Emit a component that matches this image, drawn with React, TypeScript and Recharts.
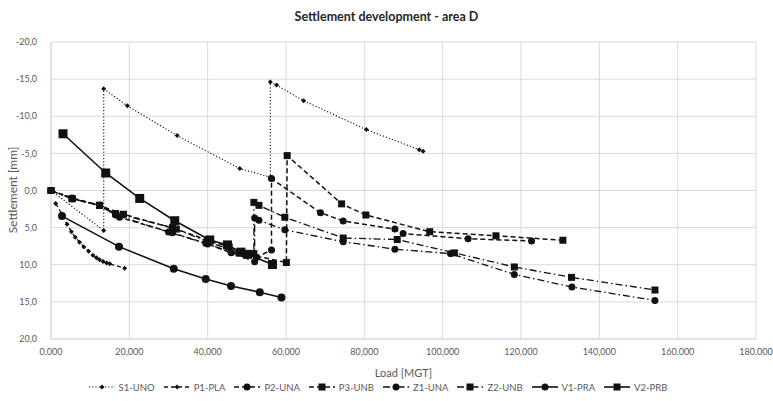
import React from 'react';
import { LineChart, Line, XAxis, YAxis, CartesianGrid, Legend } from 'recharts';

// Load [MGT] / settlement [mm] values
const s1Load = [0, 13.46, 13.46, 19.5, 32.2, 48.2, 56.0, 56.0, 57.6, 64.5, 80.5, 94.0, 95.0];
const s1Sett = [0, 5.4, -13.7, -11.4, -7.4, -2.95, -1.8, -14.6, -14.2, -12.1, -8.2, -5.5, -5.3];

const p1Load = [1.2, 2.8, 4.1, 5.2, 6.2, 7.3, 8.4, 9.6, 10.7, 11.6, 12.4, 13.3, 14.2, 15.0, 18.8];
const p1Sett = [1.74, 3.2, 4.56, 5.55, 6.3, 6.97, 7.6, 8.18, 8.71, 9.07, 9.34, 9.57, 9.75, 9.88, 10.46];

const p2Load = [0, 5.4, 12.4, 17.5, 31.0, 39.5, 46.0, 52.5, 56.3, 56.3, 68.8, 74.6, 87.8, 89.9, 106.5, 122.7];
const p2Sett = [0, 1.0, 2.0, 3.6, 5.7, 7.1, 8.4, 9.0, 8.0, -1.6, 3.0, 4.1, 5.2, 5.8, 6.5, 6.8];

const p3Load = [0, 5.4, 12.4, 18.5, 32.0, 40.5, 45.5, 49.5, 60.1, 60.3, 74.2, 80.4, 96.7, 113.6, 130.7];
const p3Sett = [0, 1.1, 2.0, 3.2, 5.2, 6.8, 7.6, 8.5, 9.7, -4.7, 1.8, 3.3, 5.55, 6.1, 6.7];

const z1Load = [0, 5.4, 12.4, 16.5, 30.0, 40.0, 46.0, 52.0, 52.0, 53.1, 59.7, 74.6, 87.8, 102.0, 118.3, 133.0, 154.2];
const z1Sett = [0, 1.1, 2.0, 3.3, 5.6, 7.2, 8.3, 9.6, 3.7, 4.0, 5.3, 6.9, 7.9, 8.5, 11.3, 13.0, 14.8];

const z2Load = [0, 5.4, 12.4, 16.5, 31.0, 40.0, 48.0, 51.8, 51.8, 53.1, 59.7, 74.6, 88.4, 103.0, 118.3, 132.9, 154.2];
const z2Sett = [0, 1.1, 2.0, 3.1, 5.0, 6.9, 8.4, 8.5, 1.6, 2.0, 3.6, 6.4, 6.6, 8.4, 10.3, 11.7, 13.4];

const v1Load = [2.81, 17.37, 31.34, 39.5, 45.97, 53.3, 58.84];
const v1Sett = [3.45, 7.56, 10.55, 11.93, 12.87, 13.7, 14.4];

const v2Load = [3.07, 13.97, 22.65, 31.59, 40.53, 45.05, 48.5, 50.2, 56.54];
const v2Sett = [-7.64, -2.36, 1.07, 4.07, 6.66, 7.33, 8.3, 8.6, 9.97];

const xTicks = [0, 20, 40, 60, 80, 100, 120, 140, 160, 180];
const yTicks = [-20, -15, -10, -5, 0, 5, 10, 15, 20];

const seriesNames = ['S1-UNO', 'P1-PLA', 'P2-UNA', 'P3-UNB', 'Z1-UNA', 'Z2-UNB', 'V1-PRA', 'V2-PRB'];

const zip = (xs: number[], ys: number[]) => xs.map((x, i) => ({ x, y: ys[i] }));

const FONT = 'Lato, "Open Sans", sans-serif';
const INK = '#111';
const TXT = '#595959';

type Shape = 'diamond' | 'circle' | 'square';

const Marker = ({ shape, size, cx, cy }: { shape: Shape; size: number; cx: number; cy: number }) => {
  const h = size / 2;
  if (shape === 'circle') return <circle cx={cx} cy={cy} r={h} fill={INK} stroke="none" />;
  if (shape === 'square') return <rect x={cx - h} y={cy - h} width={size} height={size} fill={INK} stroke="none" />;
  return <polygon points={`${cx},${cy - h} ${cx + h},${cy} ${cx},${cy + h} ${cx - h},${cy}`} fill={INK} stroke="none" />;
};

const makeDot = (shape: Shape, size: number) => (props: any) => {
  const { cx, cy, index } = props;
  if (cx == null || cy == null) return <g key={`d-${index}`} />;
  return (
    <g key={`d-${index}`}>
      <Marker shape={shape} size={size} cx={cx} cy={cy} />
    </g>
  );
};

const seriesStyles: { dash?: string; shape: Shape; size: number; width: number }[] = [
  { dash: '1.2 2', shape: 'diamond', size: 5, width: 1.1 },
  { dash: '4 3', shape: 'diamond', size: 5, width: 1.3 },
  { dash: '5 3', shape: 'circle', size: 7, width: 1.5 },
  { dash: '5 3', shape: 'square', size: 7, width: 1.5 },
  { dash: '7 3 1.5 3', shape: 'circle', size: 7, width: 1.3 },
  { dash: '7 3 1.5 3', shape: 'square', size: 7, width: 1.3 },
  { dash: undefined, shape: 'circle', size: 8, width: 1.6 },
  { dash: undefined, shape: 'square', size: 9, width: 1.6 },
];

const seriesData = [
  zip(s1Load, s1Sett),
  zip(p1Load, p1Sett),
  zip(p2Load, p2Sett),
  zip(p3Load, p3Sett),
  zip(z1Load, z1Sett),
  zip(z2Load, z2Sett),
  zip(v1Load, v1Sett),
  zip(v2Load, v2Sett),
];

const fmtX = (v: number) => v.toFixed(3).replace('.', ',');
const fmtY = (v: number) => v.toFixed(1).replace('.', ',');

const LegendContent = () => (
  <div
    style={{
      display: 'flex',
      justifyContent: 'center',
      alignItems: 'center',
      height: 16,
      fontFamily: FONT,
      fontSize: 9.5,
      color: TXT,
    }}
  >
    {seriesNames.map((name, i) => {
      const st = seriesStyles[i];
      return (
        <div key={name} style={{ display: 'flex', alignItems: 'center', marginRight: i < seriesNames.length - 1 ? 9 : 0 }}>
          <svg width={26} height={10} style={{ marginRight: 4 }}>
            <line x1={0} y1={5} x2={26} y2={5} stroke={INK} strokeWidth={st.width} strokeDasharray={st.dash} />
            <Marker shape={st.shape} size={Math.min(st.size, 7)} cx={13} cy={5} />
          </svg>
          <span>{name}</span>
        </div>
      );
    })}
  </div>
);

const YLabel = () => (
  <text
    x={14}
    y={190}
    transform="rotate(-90 14 190)"
    textAnchor="middle"
    dominantBaseline="middle"
    fontFamily={FONT}
    fontSize={12}
    fill={TXT}
  >
    Settlement [mm]
  </text>
);

export default function App() {
  return (
    <div style={{ position: 'absolute', left: 0, top: 0, width: 773, height: 401, background: '#fff' }}>
      <div
        style={{
          position: 'absolute',
          left: 0,
          top: 9,
          width: 773,
          textAlign: 'center',
          fontFamily: FONT,
          fontWeight: 700,
          fontSize: 12.5,
          color: '#262626',
        }}
      >
        Settlement development - area D
      </div>
      <LineChart width={773} height={401} margin={{ top: 42, right: 17, bottom: 6, left: 0 }}>
        <CartesianGrid stroke="#d9d9d9" strokeWidth={1} />
        <XAxis
          type="number"
          dataKey="x"
          domain={[0, 180]}
          ticks={xTicks}
          tickFormatter={fmtX}
          interval={0}
          height={40}
          tickLine={false}
          axisLine={{ stroke: '#d9d9d9' }}
          tickMargin={4}
          tick={{ fontFamily: FONT, fontSize: 9, fill: TXT }}
          label={{ value: 'Load [MGT]', position: 'insideBottom', offset: 2, fontFamily: FONT, fontSize: 11, fill: TXT }}
        />
        <YAxis
          type="number"
          domain={[-20, 20]}
          reversed
          ticks={yTicks}
          tickFormatter={fmtY}
          interval={0}
          width={51}
          tickLine={false}
          axisLine={{ stroke: '#d9d9d9' }}
          tickMargin={8}
          tick={{ fontFamily: FONT, fontSize: 9, fill: TXT }}
          label={<YLabel />}
        />
        <Legend content={<LegendContent />} verticalAlign="bottom" height={16} />
        {seriesData.map((d, i) => {
          const st = seriesStyles[i];
          return (
            <Line
              key={seriesNames[i]}
              name={seriesNames[i]}
              data={d}
              dataKey="y"
              type="linear"
              stroke={INK}
              strokeWidth={st.width}
              strokeDasharray={st.dash}
              dot={makeDot(st.shape, st.size)}
              activeDot={false}
              isAnimationActive={false}
            />
          );
        })}
      </LineChart>
    </div>
  );
}
